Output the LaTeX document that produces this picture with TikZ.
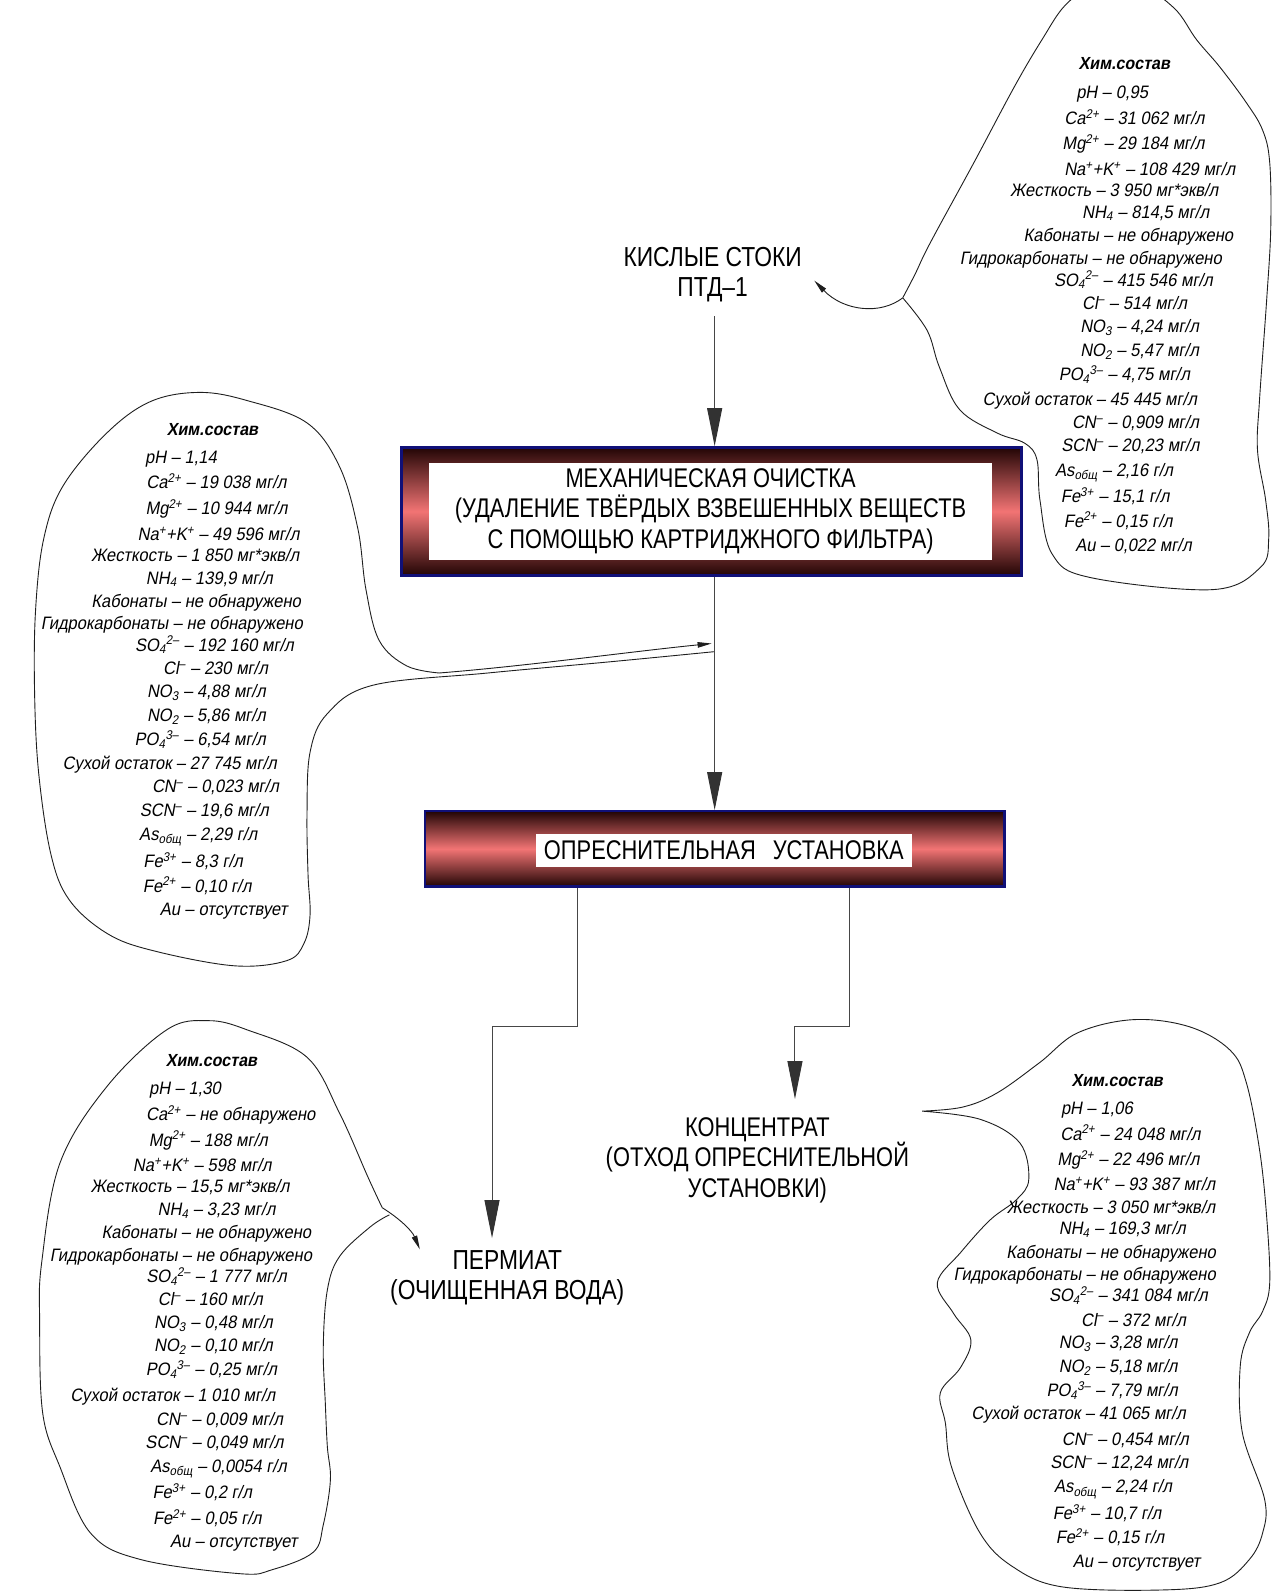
\documentclass[tikz,border=0pt]{standalone}
\usepackage{fontspec}
\usetikzlibrary{arrows.meta}
\newfontfamily\chemf[FakeStretch=0.92,FakeSlant=0.18]{Liberation Sans}
\newfontfamily\gostf[FakeStretch=0.83]{Liberation Sans}
\newfontfamily\narrowf[FakeStretch=0.81]{Liberation Sans}
\definecolor{boxdark}{RGB}{34,5,5}
\definecolor{boxlight}{RGB}{242,116,116}
\definecolor{boxborder}{RGB}{16,16,120}
\definecolor{flowgray}{RGB}{70,70,70}
\definecolor{headgray}{RGB}{50,50,50}
\definecolor{blobline}{RGB}{30,30,30}
\newcommand\chl[4]{\node[chem] (#1) at (#2,#3+6.5) {#4};}
\newcommand\chh[3]{\node[chemhead] (#1) at (#2,#3+6.5) {Хим.состав};}
\newcommand\sps[1]{\smash{\textsuperscript{#1}}}
\newcommand\sbs[1]{\smash{\textsubscript{#1}}}
\newcommand\ssb[2]{\smash{\textsubscript{#1}}\smash{\textsuperscript{#2}}}
\begin{document}
\begin{tikzpicture}[x=1.0168pt,y=-1.0168pt,
  chem/.style={anchor=base,inner sep=0pt,font=\chemf\fontsize{18}{20}\selectfont},
  chemhead/.style={anchor=base,inner sep=0pt,font=\chemf\bfseries\fontsize{17.5}{20}\selectfont},
  gostlab/.style={align=center,inner sep=0pt,font=\gostf\fontsize{27.5}{30.5}\selectfont},
  narrowlab/.style={align=center,inner sep=0pt,font=\narrowf\fontsize{27}{30.5}\selectfont},
  procbox/.style={draw=boxborder,line width=2.4pt,top color=boxdark,bottom color=boxdark,middle color=boxlight,inner sep=0pt},
  whitelab/.style={narrowlab,fill=white},
  flow/.style={draw=flowgray,line width=1pt,-{Triangle[length=38pt,width=15pt,color=headgray]}},
  blob/.style={draw=blobline,line width=0.9pt},
  blobtip/.style={-{Triangle[length=14pt,width=5.5pt,color=blobline]}}
]
\useasboundingbox[fill=white] (0,0) rectangle (1252,1568);

% ---------------- blobs ----------------
\begin{scope}
\clip (0,0) rectangle (1252,1568);
\draw[blob] plot[smooth,tension=0.6] coordinates {(888,293) (900,270) (915,239) (958,160) (998,85) (1025,39) (1048,5) (1075,-12) (1120,-14) (1155,8) (1177,39) (1200,66) (1226,101) (1242,128) (1249,160) (1250,225) (1246,295) (1239,393) (1237,443) (1245,492) (1248,530) (1240,558) (1193,580) (1072,568) (1035,545) (1023,492) (1020,452) (1008,436) (981,426) (944,403) (924,361) (912,325) (888,293)};
\draw[blob] plot[smooth,tension=0.6] coordinates {(703,641) (600,651) (480,662) (367,674) (322,702) (305,740) (302,800) (303,860) (305,900) (299,928) (282,945) (230,950) (150,935) (105,918) (68,885) (50,840) (38,760) (34,680) (35,600) (43,530) (62,478) (105,426) (148,395) (196,386) (243,394) (302,416) (334,459) (352,520) (360,580) (373,630) (400,655) (432,662)};
\draw[blob] plot[smooth,tension=0.6] coordinates {(383,1195) (364,1207) (334,1236) (322,1269) (318,1325) (320,1380) (322,1423) (325,1456) (318,1500) (308,1527) (268,1544) (236,1548) (138,1534) (89,1508) (59,1443) (42,1390) (39,1300) (41,1242) (59,1144) (105,1069) (164,1013) (205,1004) (243,1013) (302,1040) (334,1095) (362,1158) (376,1188)};
\draw[blob] plot[smooth,tension=0.6] coordinates {(907,1093) (947,1089) (981,1075) (1023,1045) (1060,1016) (1115,1003) (1170,1010) (1210,1033) (1226,1065) (1239,1131) (1246,1197) (1249,1262) (1242,1290) (1229,1311) (1220,1344) (1222,1409) (1244,1475) (1242,1508) (1229,1534) (1200,1557) (1144,1564) (1045,1561) (996,1541) (964,1508) (936,1443) (930,1400) (925,1370) (945,1345) (955,1318) (938,1292) (922,1262) (945,1232) (974,1200) (1000,1180) (1012,1160) (1003,1124) (964,1101) (907,1093)};
\end{scope}

% ---------------- main labels and boxes ----------------
\node[gostlab] (src) at (701,270) {КИСЛЫЕ СТОКИ\\ПТД–1};
\node[procbox,minimum width=620pt,minimum height=128pt] (mech) at (700,503) {};
\node[whitelab,minimum width=563pt,minimum height=97.6pt] (mecht) at (699,503)
  {МЕХАНИЧЕСКАЯ ОЧИСТКА\\(УДАЛЕНИЕ ТВЁРДЫХ ВЗВЕШЕННЫХ ВЕЩЕСТВ\\С ПОМОЩЬЮ КАРТРИДЖНОГО ФИЛЬТРА)};
\node[procbox,minimum width=579.6pt,minimum height=75.2pt] (desal) at (703,835) {};
\node[whitelab,minimum width=376pt,minimum height=33.6pt] (desalt) at (712,836.5)
  {ОПРЕСНИТЕЛЬНАЯ\hspace{0.4em} УСТАНОВКА};
\node[gostlab] (perm) at (499,1257) {ПЕРМИАТ\\(ОЧИЩЕННАЯ ВОДА)};
\node[narrowlab] (conc) at (745,1141) {КОНЦЕНТРАТ\\(ОТХОД ОПРЕСНИТЕЛЬНОЙ\\УСТАНОВКИ)};

% ---------------- connectors ----------------
\coordinate (mx) at (703,0);
\coordinate (lb) at (568,1010);
\coordinate (px) at (484,0);
\coordinate (rb) at (836,1010);
\coordinate (cx) at (782,0);
\draw[flow,shorten <=14pt] (src.south -| mx) -- (mech.north -| mx);
\draw[flow] (mech.south -| mx) -- (desal.north -| mx);
\draw[flow,shorten >=12pt] (desal.south -| lb) -- (lb) -- (lb -| px) -- (perm.north -| px);
\draw[flow,shorten >=18pt] (desal.south -| rb) -- (rb) -- (rb -| cx) -- (conc.north -| cx);

% ---------------- blob tails ----------------
\coordinate (tipA) at (801,276);
\coordinate (tipB) at (700,633);
\coordinate (tipC) at (413,1229);
\draw[blob,blobtip] (888,293) .. controls (866,310) and (830,306) .. (tipA);
\draw[blob,blobtip] (432,662) .. controls (520,655) and (620,641) .. (tipB);
\draw[blob,blobtip] (376,1188) .. controls (392,1198) and (405,1210) .. (tipC);

% ---------------- top right composition ----------------
\chh{tr0}{1106}{62}
\chl{tr1}{1094}{90}{pH – 0,95}
\chl{tr2}{1116}{116}{Ca\sps{2+} – 31 062 мг/л}
\chl{tr3}{1115}{141}{Mg\sps{2+} – 29 184 мг/л}
\chl{tr4}{1131}{166}{Na\sps{+}+K\sps{+} – 108 429 мг/л}
\chl{tr5}{1096}{187}{Жесткость – 3 950 мг*экв/л}
\chl{tr6}{1127}{208}{NH\sbs{4} – 814,5 мг/л}
\chl{tr7}{1110}{231}{Кабонаты – не обнаружено}
\chl{tr8}{1073}{254}{Гидрокарбонаты – не обнаружено}
\chl{tr9}{1115}{275}{SO\ssb{4}{2–} – 415 546 мг/л}
\chl{tr10}{1116}{298}{Cl\sps{–} – 514 мг/л}
\chl{tr11}{1121}{321}{NO\sbs{3} – 4,24 мг/л}
\chl{tr12}{1121}{344}{NO\sbs{2} – 5,47 мг/л}
\chl{tr13}{1106}{368}{PO\ssb{4}{3–} – 4,75 мг/л}
\chl{tr14}{1072}{392}{Сухой остаток – 45 445 мг/л}
\chl{tr15}{1117}{415}{CN\sps{–} – 0,909 мг/л}
\chl{tr16}{1112}{438}{SCN\sps{–} – 20,23 мг/л}
\chl{tr17}{1096}{462}{As\sbs{общ} – 2,16 г/л}
\chl{tr18}{1097}{488}{Fe\sps{3+} – 15,1 г/л}
\chl{tr19}{1100}{512}{Fe\sps{2+} – 0,15 г/л}
\chl{tr20}{1115}{536}{Au – 0,022 мг/л}

% ---------------- left middle composition ----------------
\chh{lm0}{209}{422}
\chl{lm1}{178}{449}{pH – 1,14}
\chl{lm2}{213}{474}{Ca\sps{2+} – 19 038 мг/л}
\chl{lm3}{213}{500}{Mg\sps{2+} – 10 944 мг/л}
\chl{lm4}{215}{525}{Na\sps{+}+K\sps{+} – 49 596 мг/л}
\chl{lm5}{192}{546}{Жесткость – 1 850 мг*экв/л}
\chl{lm6}{206}{568}{NH\sbs{4} – 139,9 мг/л}
\chl{lm7}{193}{591}{Кабонаты – не обнаружено}
\chl{lm8}{169}{613}{Гидрокарбонаты – не обнаружено}
\chl{lm9}{211}{634}{SO\ssb{4}{2–} – 192 160 мг/л}
\chl{lm10}{212}{657}{Cl\sps{–} – 230 мг/л}
\chl{lm11}{203}{680}{NO\sbs{3} – 4,88 мг/л}
\chl{lm12}{203}{703}{NO\sbs{2} – 5,86 мг/л}
\chl{lm13}{197}{727}{PO\ssb{4}{3–} – 6,54 мг/л}
\chl{lm14}{167}{750}{Сухой остаток – 27 745 мг/л}
\chl{lm15}{212}{773}{CN\sps{–} – 0,023 мг/л}
\chl{lm16}{201}{797}{SCN\sps{–} – 19,6 мг/л}
\chl{lm17}{195}{820}{As\sbs{общ} – 2,29 г/л}
\chl{lm18}{190}{847}{Fe\sps{3+} – 8,3 г/л}
\chl{lm19}{194}{871}{Fe\sps{2+} – 0,10 г/л}
\chl{lm20}{220}{894}{Au – отсутствует}

% ---------------- bottom left composition ----------------
\chh{bl0}{208}{1043}
\chl{bl1}{182}{1070}{pH – 1,30}
\chl{bl2}{227}{1096}{Ca\sps{2+} – не обнаружено}
\chl{bl3}{205}{1121}{Mg\sps{2+} – 188 мг/л}
\chl{bl4}{199}{1146}{Na\sps{+}+K\sps{+} – 598 мг/л}
\chl{bl5}{187}{1167}{Жесткость – 15,5 мг*экв/л}
\chl{bl6}{213}{1189}{NH\sbs{4} – 3,23 мг/л}
\chl{bl7}{203}{1212}{Кабонаты – не обнаружено}
\chl{bl8}{178}{1234}{Гидрокарбонаты – не обнаружено}
\chl{bl9}{213}{1255}{SO\ssb{4}{2–} – 1 777 мг/л}
\chl{bl10}{207}{1278}{Cl\sps{–} – 160 мг/л}
\chl{bl11}{210}{1300}{NO\sbs{3} – 0,48 мг/л}
\chl{bl12}{210}{1323}{NO\sbs{2} – 0,10 мг/л}
\chl{bl13}{208}{1347}{PO\ssb{4}{3–} – 0,25 мг/л}
\chl{bl14}{170}{1372}{Сухой остаток – 1 010 мг/л}
\chl{bl15}{216}{1396}{CN\sps{–} – 0,009 мг/л}
\chl{bl16}{211}{1418}{SCN\sps{–} – 0,049 мг/л}
\chl{bl17}{215}{1442}{As\sbs{общ} – 0,0054 г/л}
\chl{bl18}{199}{1468}{Fe\sps{3+} – 0,2 г/л}
\chl{bl19}{204}{1493}{Fe\sps{2+} – 0,05 г/л}
\chl{bl20}{230}{1516}{Au – отсутствует}

% ---------------- bottom right composition ----------------
\chh{br0}{1099}{1062}
\chl{br1}{1079}{1090}{pH – 1,06}
\chl{br2}{1112}{1115}{Ca\sps{2+} – 24 048 мг/л}
\chl{br3}{1110}{1140}{Mg\sps{2+} – 22 496 мг/л}
\chl{br4}{1116}{1165}{Na\sps{+}+K\sps{+} – 93 387 мг/л}
\chl{br5}{1093}{1187}{Жесткость – 3 050 мг*экв/л}
\chl{br6}{1104}{1208}{NH\sbs{4} – 169,3 мг/л}
\chl{br7}{1093}{1231}{Кабонаты – не обнаружено}
\chl{br8}{1067}{1253}{Гидрокарбонаты – не обнаружено}
\chl{br9}{1110}{1274}{SO\ssb{4}{2–} – 341 084 мг/л}
\chl{br10}{1115}{1298}{Cl\sps{–} – 372 мг/л}
\chl{br11}{1100}{1320}{NO\sbs{3} – 3,28 мг/л}
\chl{br12}{1100}{1344}{NO\sbs{2} – 5,18 мг/л}
\chl{br13}{1094}{1367}{PO\ssb{4}{3–} – 7,79 мг/л}
\chl{br14}{1061}{1390}{Сухой остаток – 41 065 мг/л}
\chl{br15}{1107}{1415}{CN\sps{–} – 0,454 мг/л}
\chl{br16}{1101}{1438}{SCN\sps{–} – 12,24 мг/л}
\chl{br17}{1095}{1462}{As\sbs{общ} – 2,24 г/л}
\chl{br18}{1089}{1488}{Fe\sps{3+} – 10,7 г/л}
\chl{br19}{1092}{1512}{Fe\sps{2+} – 0,15 г/л}
\chl{br20}{1118}{1535}{Au – отсутствует}
\end{tikzpicture}
\end{document}
